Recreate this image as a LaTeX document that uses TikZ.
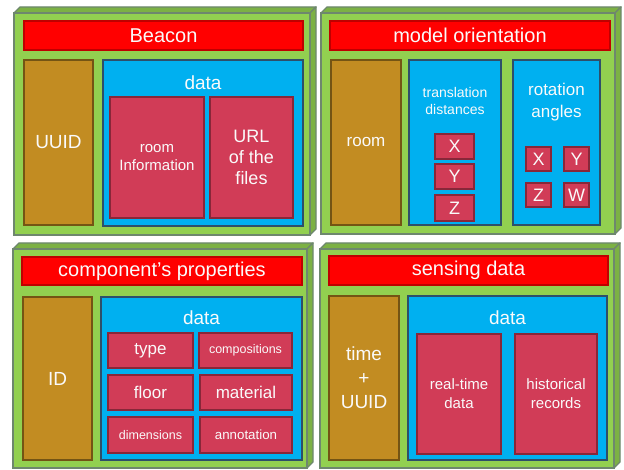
\documentclass[tikz,border=0pt]{standalone}
\usepackage{fontspec}
\setmainfont{Liberation Sans}
\begin{document}
\begin{tikzpicture}[x=1pt,y=-1pt,
  base/.style={inner sep=0pt, outer sep=0pt, text=white!96!gray, align=center},
  frontbox/.style={base, fill=panelgreen, draw=edgegray, line width=1.8pt},
  sideface/.style={fill=panelgreen!85!black, draw=edgegray, line width=1.4pt, line join=round},
  titlebar/.style={base, fill=titlered, draw=titlered!75!black, line width=1.2pt, font=\fontsize{20}{24}\selectfont},
  keybox/.style={base, fill=keybrown, draw=keybrown!60!black, line width=1.6pt},
  databox/.style={base, fill=datablue, draw=databorder, line width=1.8pt},
  itembox/.style={base, fill=itemred, draw=itemred!65!black, line width=1.6pt},
  lbl/.style={base, inner sep=0pt}
]
\definecolor{panelgreen}{HTML}{92D050}
\definecolor{edgegray}{HTML}{6E876E}
\definecolor{titlered}{HTML}{FF0000}
\definecolor{keybrown}{HTML}{C28C22}
\definecolor{datablue}{HTML}{00B0F0}
\definecolor{databorder}{HTML}{2E4F6A}
\definecolor{itemred}{HTML}{D13C57}
\useasboundingbox (0,0) rectangle (624,470);
\fill[white] (0,0) rectangle (624,470);

\newcommand\bx[7]{\node[#2, minimum width={(#5-#3)*1pt}, minimum height={(#6-#4)*1pt}] (#1) at ({(#3+#5)/2},{(#4+#6)/2}) {#7};}
\newcommand\panelbox[5]{%
  \draw[sideface] (#2,#3) -- ({#2+6},{#3-6}) -- ({#4+6},{#3-6}) -- (#4,#3) -- cycle;
  \draw[sideface] (#4,#3) -- ({#4+6},{#3-6}) -- ({#4+6},{#5-6}) -- (#4,#5) -- cycle;
  \bx{#1}{frontbox}{#2}{#3}{#4}{#5}{}}

% ---------- Panel 1: Beacon
\panelbox{p1}{14}{13}{310}{235}
\bx{t1}{titlebar}{24}{21}{303}{50}{Beacon}
\bx{k1}{keybox, font=\fontsize{19}{23}\selectfont}{24}{60}{93}{225}{UUID}
\bx{d1}{databox}{103}{60}{303}{226}{}
\node[lbl, font=\fontsize{19}{23}\selectfont, anchor=base] (d1l) at (203,90) {data};
\bx{i11}{itembox, font=\fontsize{15}{18}\selectfont}{110}{97}{204}{218}{room\\Information}
\bx{i12}{itembox, font=\fontsize{18}{21}\selectfont}{210}{97}{293}{218}{\raisebox{-2pt}{\parbox{80pt}{\centering URL\\of the\\files}}}

% ---------- Panel 2: model orientation
\panelbox{p2}{321}{13}{615}{234}
\bx{t2}{titlebar}{330}{21}{610}{50}{model orientation}
\bx{k2}{keybox, font=\fontsize{17}{21}\selectfont}{331}{60}{401}{225}{room}
\bx{d2}{databox}{409}{60}{501}{225}{}
\node[lbl, font=\fontsize{14}{17}\selectfont, anchor=north] (d2l) at (455,87) {translation\\distances};
\bx{tx}{itembox, font=\fontsize{18}{21}\selectfont}{435}{134}{474}{159}{X}
\bx{ty}{itembox, font=\fontsize{18}{21}\selectfont}{435}{164}{474}{189}{Y}
\bx{tz}{itembox, font=\fontsize{18}{21}\selectfont}{435}{195}{474}{221}{Z}
\bx{d3}{databox}{513}{60}{600}{225}{}
\node[lbl, font=\fontsize{17}{22}\selectfont, anchor=north] (d3l) at (556.5,83) {rotation\\angles};
\bx{rx}{itembox, font=\fontsize{18}{21}\selectfont}{526}{147}{551}{171}{X}
\bx{ry}{itembox, font=\fontsize{18}{21}\selectfont}{564}{147}{589}{171}{Y}
\bx{rz}{itembox, font=\fontsize{18}{21}\selectfont}{526}{183}{551}{207}{Z}
\bx{rw}{itembox, font=\fontsize{18}{21}\selectfont}{564}{183}{589}{207}{W}

% ---------- Panel 3: component's properties
\panelbox{p3}{13}{249}{307}{468}
\bx{t3}{titlebar}{22}{257}{302}{285}{component{\char"0027}s properties}
\bx{k3}{keybox, font=\fontsize{19}{23}\selectfont}{23}{297}{92}{460}{ID}
\bx{d4}{databox}{101}{297}{302}{460}{}
\node[lbl, font=\fontsize{19}{23}\selectfont, anchor=base] (d4l) at (201.5,325) {data};
\bx{c1}{itembox, font=\fontsize{17}{20}\selectfont}{108}{333}{193}{368}{type}
\bx{c2}{itembox, font=\fontsize{12.5}{15}\selectfont}{199}{333}{292}{368}{compositions}
\bx{c3}{itembox, font=\fontsize{17}{20}\selectfont}{108}{375}{193}{410}{floor}
\bx{c4}{itembox, font=\fontsize{17}{20}\selectfont}{200}{375}{292}{410}{material}
\bx{c5}{itembox, font=\fontsize{12.5}{15}\selectfont}{108}{417}{193}{453}{dimensions}
\bx{c6}{itembox, font=\fontsize{13.3}{16}\selectfont}{200}{417}{292}{453}{annotation}

% ---------- Panel 4: sensing data
\panelbox{p4}{320}{249}{614}{468}
\bx{t4}{titlebar}{329}{256}{608}{285}{sensing data}
\bx{k4}{keybox, font=\fontsize{19}{24}\selectfont}{329}{296}{399}{460}{time\\+\\UUID}
\bx{d5}{databox}{408}{296}{607}{460}{}
\node[lbl, font=\fontsize{19}{23}\selectfont, anchor=base] (d5l) at (507.5,325) {data};
\bx{s1}{itembox, font=\fontsize{15}{19}\selectfont}{417}{334}{501}{454}{real-time\\data}
\bx{s2}{itembox, font=\fontsize{15}{19}\selectfont}{515}{334}{597}{454}{historical\\records}
\end{tikzpicture}
\end{document}
